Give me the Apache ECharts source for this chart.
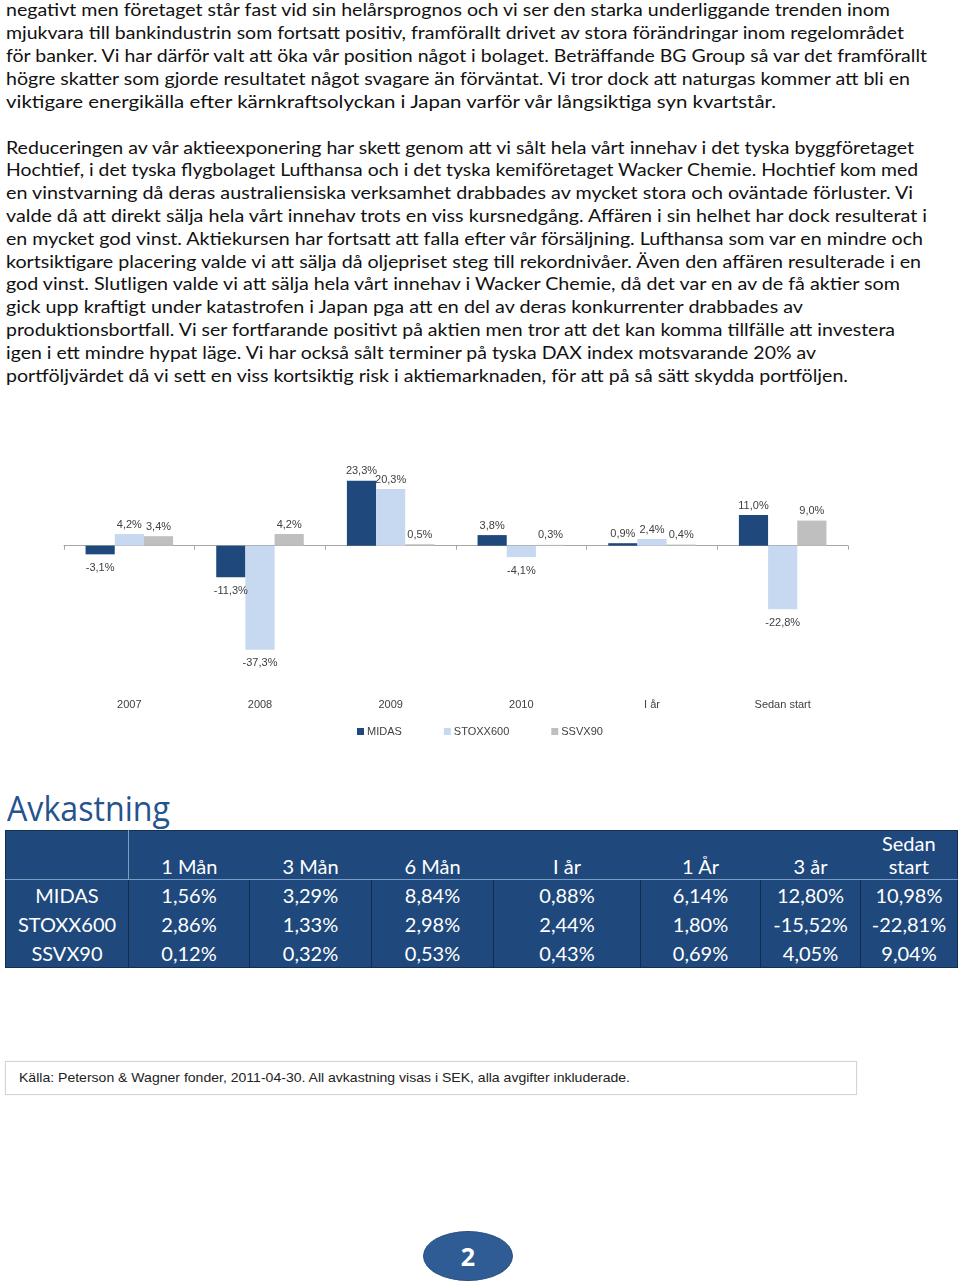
<!DOCTYPE html>
<html>
<head>
<meta charset="utf-8">
<script src="https://cdn.jsdelivr.net/npm/echarts@6/dist/echarts.min.js"></script>
<style>
  html, body { margin: 0; padding: 0; background: #fff; }
  body { width: 960px; height: 1282px; position: relative; overflow: hidden; font-family: "Lato", "Liberation Sans", sans-serif; color: #111; }
  .ln { position: absolute; left: 6px; white-space: nowrap; font-size: 18px; line-height: 23px; transform-origin: 0 50%; }
  #chart { position: absolute; left: 0; top: 440px; width: 960px; height: 310px; }
  #title { position: absolute; left: 7px; top: 786px; font-family: "Open Sans", sans-serif; font-size: 34px; line-height: 44px; color: #24548c; white-space: nowrap; transform-origin: 0 50%; }
  #tbl { position: absolute; left: 5px; top: 830px; border-collapse: collapse; background: #1f497d; color: #fff; font-size: 20px; font-weight: 400; border: 1px solid #14304f; }
  #tbl td { text-align: center; padding: 0; height: 29px; line-height: 26px; border-left: 1px solid #112c4c; }
  #tbl tr.hd td { height: 47px; vertical-align: bottom; line-height: 23px; border-left: none; border-bottom: 1px solid #7d9cc4; padding-bottom: 1px; }
  #tbl tr.hd td.c0 { border-right: 1px solid #7d9cc4; }
  #tbl td.c0 { border-left: none; }
  #src { position: absolute; left: 5px; top: 1061px; width: 850px; height: 32px; border: 1px solid #d4d4d4; box-shadow: 0 0 1px #e6e6e6; }
  #srctxt { position: absolute; left: 13px; top: 8px; font-family: "Liberation Sans", sans-serif; font-size: 13px; line-height: 16px; white-space: nowrap; color: #222; transform-origin: 0 50%; }
  #pg { position: absolute; left: 423px; top: 1231px; width: 90px; height: 50px; border-radius: 50%; background: #2f5c95; box-sizing: border-box; border: 1px solid #27507f; color: #fff; font-family: "Open Sans", sans-serif; font-weight: bold; font-size: 25px; line-height: 48px; text-align: center; }
</style>
</head>
<body>
<div id="text"></div>
<div id="chart"></div>
<div id="title">Avkastning</div>
<table id="tbl"></table>
<div id="src"><div id="srctxt">Källa: Peterson &amp; Wagner fonder, 2011-04-30. All avkastning visas i SEK, alla avgifter inkluderade.</div></div>
<div id="pg">2</div>
<script>
// ---------- Data ----------
const categories = ['2007', '2008', '2009', '2010', 'I år', 'Sedan start'];
const seriesNames = ['MIDAS', 'STOXX600', 'SSVX90'];
const midasValues = [-3.1, -11.3, 23.3, 3.8, 0.9, 11.0];
const stoxxValues = [4.2, -37.3, 20.3, -4.1, 2.4, -22.8];
const ssvxValues = [3.4, 4.2, 0.5, 0.3, 0.4, 9.0];

const tableHeaders = ['', '1 Mån', '3 Mån', '6 Mån', 'I år', '1 År', '3 år', 'Sedan<br>start'];
const tableRowNames = ['MIDAS', 'STOXX600', 'SSVX90'];
const tableMidas = ['1,56%', '3,29%', '8,84%', '0,88%', '6,14%', '12,80%', '10,98%'];
const tableStoxx = ['2,86%', '1,33%', '2,98%', '2,44%', '1,80%', '-15,52%', '-22,81%'];
const tableSsvx = ['0,12%', '0,32%', '0,53%', '0,43%', '0,69%', '4,05%', '9,04%'];

const para1 = [
  'negativt men företaget står fast vid sin helårsprognos och vi ser den starka underliggande trenden inom',
  'mjukvara till bankindustrin som fortsatt positiv, framförallt drivet av stora förändringar inom regelområdet',
  'för banker. Vi har därför valt att öka vår position något i bolaget. Beträffande BG Group så var det framförallt',
  'högre skatter som gjorde resultatet något svagare än förväntat. Vi tror dock att naturgas kommer att bli en',
  'viktigare energikälla efter kärnkraftsolyckan i Japan varför vår långsiktiga syn kvartstår.'
];
const para2 = [
  'Reduceringen av vår aktieexponering har skett genom att vi sålt hela vårt innehav i det tyska byggföretaget',
  'Hochtief, i det tyska flygbolaget Lufthansa och i det tyska kemiföretaget Wacker Chemie. Hochtief kom med',
  'en vinstvarning då deras australiensiska verksamhet drabbades av mycket stora och oväntade förluster. Vi',
  'valde då att direkt sälja hela vårt innehav trots en viss kursnedgång. Affären i sin helhet har dock resulterat i',
  'en mycket god vinst. Aktiekursen har fortsatt att falla efter vår försäljning. Lufthansa som var en mindre och',
  'kortsiktigare placering valde vi att sälja då oljepriset steg till rekordnivåer. Även den affären resulterade i en',
  'god vinst. Slutligen valde vi att sälja hela vårt innehav i Wacker Chemie, då det var en av de få aktier som',
  'gick upp kraftigt under katastrofen i Japan pga att en del av deras konkurrenter drabbades av',
  'produktionsbortfall. Vi ser fortfarande positivt på aktien men tror att det kan komma tillfälle att investera',
  'igen i ett mindre hypat läge. Vi har också sålt terminer på tyska DAX index motsvarande 20% av',
  'portföljvärdet då vi sett en viss kortsiktig risk i aktiemarknaden, för att på så sätt skydda portföljen.'
];

// ---------- Layout (line right edges in the page) ----------
const para1Right = [890, 904, 927, 910, 776];
const para2Right = [914, 918, 913, 927, 923, 921, 900, 803, 895, 816, 848];

function fitWidth(el, target) {
  el.style.display = 'inline-block';
  const w = el.getBoundingClientRect().width;
  if (w > 0) el.style.transform = 'scaleX(' + (target / w) + ')';
}

const textBox = document.getElementById('text');
function addLines(lines, rights, firstCenter, step) {
  lines.forEach((t, i) => {
    const d = document.createElement('div');
    d.className = 'ln';
    d.textContent = t;
    d.style.top = (firstCenter + step * i - 11.5) + 'px';
    textBox.appendChild(d);
    fitWidth(d, rights[i] - 6);
  });
}
addLines(para1, para1Right, 9, 23);
addLines(para2, para2Right, 147, 22.8);

fitWidth(document.getElementById('title'), 163);
fitWidth(document.getElementById('srctxt'), 611);

// ---------- Table ----------
const colWidths = [123, 121, 122, 122, 147, 120, 100, 97];
const tbl = document.getElementById('tbl');
let html = '<colgroup>' + colWidths.map(w => '<col style="width:' + w + 'px">').join('') + '</colgroup>';
html += '<tr class="hd">' + tableHeaders.map((h, i) => '<td class="c' + i + '">' + h + '</td>').join('') + '</tr>';
[tableMidas, tableStoxx, tableSsvx].forEach((row, r) => {
  html += '<tr><td class="c0">' + tableRowNames[r] + '</td>' + row.map(v => '<td>' + v + '</td>').join('') + '</tr>';
});
tbl.innerHTML = html;
tbl.style.width = colWidths.reduce((a, b) => a + b, 0) + 'px';
tbl.style.tableLayout = 'fixed';

// ---------- Chart ----------
const colors = ['#1f497d', '#c6d9f1', '#bfbfbf'];
const fmt = v => v.toFixed(1).replace('.', ',') + '%';
const labelFont = { fontFamily: 'Liberation Sans', fontSize: 11, color: '#404040' };

function makeSeries(name, values, color) {
  return {
    name: name,
    type: 'bar',
    xAxisIndex: 0,
    barGap: '0%',
    barCategoryGap: '33%',
    itemStyle: { color: color },
    data: values.map(v => ({
      value: v,
      label: v < 0 ? { position: 'bottom', distance: 8 } : { position: 'top', distance: 4 }
    })),
    label: Object.assign({
      show: true,
      formatter: p => fmt(p.value)
    }, labelFont)
  };
}

const chart = echarts.init(document.getElementById('chart'), null, { renderer: 'canvas' });
chart.setOption({
  animation: false,
  grid: { left: 64, right: 112, top: 22, height: 223.2 },
  legend: {
    data: seriesNames,
    left: 352,
    top: 281,
    icon: 'rect',
    itemWidth: 7,
    itemHeight: 7,
    itemGap: 42,
    textStyle: { fontFamily: 'Liberation Sans', fontSize: 11, color: '#404040', padding: [0, 0, 0, -2] }
  },
  xAxis: [
    {
      type: 'category',
      data: categories,
      axisLine: { onZero: true, lineStyle: { color: '#a6a6a6', width: 1 } },
      axisTick: { show: true, length: 4, lineStyle: { color: '#a6a6a6' } },
      axisLabel: { show: false }
    },
    {
      type: 'category',
      data: categories,
      position: 'bottom',
      axisLine: { show: false, onZero: false },
      axisTick: { show: false },
      axisLabel: Object.assign({ show: true, margin: 14 }, labelFont)
    }
  ],
  yAxis: {
    type: 'value',
    min: -50,
    max: 30,
    interval: 10,
    show: false,
    splitLine: { show: false }
  },
  series: [
    makeSeries(seriesNames[0], midasValues, colors[0]),
    makeSeries(seriesNames[1], stoxxValues, colors[1]),
    makeSeries(seriesNames[2], ssvxValues, colors[2])
  ]
});
</script>
</body>
</html>
